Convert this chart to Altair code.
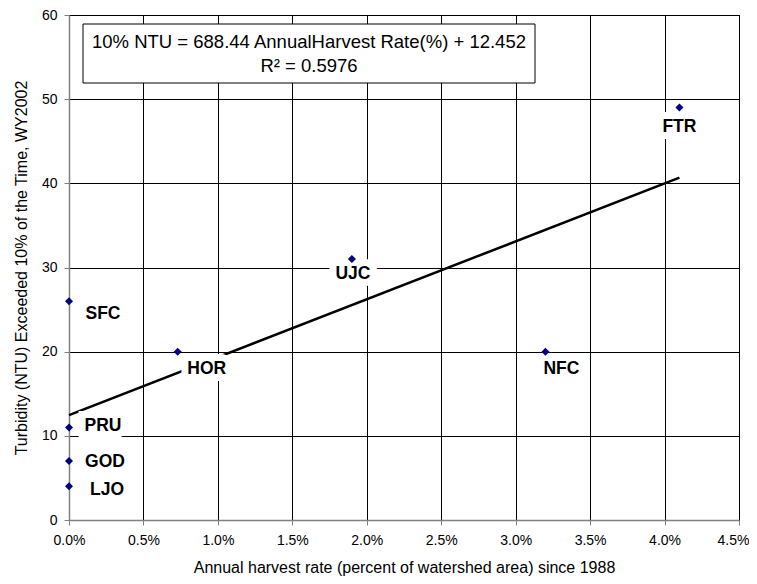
import altair as alt
import pandas as pd

sites = ["SFC", "HOR", "UJC", "NFC", "FTR", "PRU", "GOD", "LJO"]
harvest = [0.0, 0.0073, 0.019, 0.032, 0.041, 0.0, 0.0, 0.0]
ntu = [26, 20, 31, 20, 49, 11, 7, 4]

eq_line1 = "10% NTU = 688.44 AnnualHarvest Rate(%) + 12.452"
eq_line2 = "R\u00b2 = 0.5976"

# label offsets in pixels (styling)
label_offsets = {
    "SFC": (34, 13), "HOR": (29, 17), "PRU": (34, -1), "GOD": (36, 1),
    "LJO": (38, 4), "UJC": (1, 15), "NFC": (16, 17), "FTR": (0, 19),
}

df = pd.DataFrame({"site": sites, "harvest": harvest, "ntu": ntu})

W, H = 670, 505
FONT = "Liberation Sans"

xscale = alt.Scale(domain=[0, 0.045], nice=False)
yscale = alt.Scale(domain=[0, 60], nice=False)

base = alt.Chart(df)

x_enc = alt.X("harvest:Q", scale=xscale,
              axis=alt.Axis(format=".1%", values=[i * 0.005 for i in range(10)],
                            labelOffset=alt.ExprRef("datum.value >= 0.0449 ? -6 : 0"),
                            title="Annual harvest rate (percent of watershed area) since 1988"))
y_enc = alt.Y("ntu:Q", scale=yscale,
              axis=alt.Axis(values=list(range(0, 61, 10)),
                            title="Turbidity (NTU) Exceeded 10% of the Time, WY2002"))

line = base.transform_regression("harvest", "ntu").mark_line(
    color="black", strokeWidth=2.5).encode(x=x_enc, y=y_enc)

layers = [line]

for s in sites:
    dx, dy = label_offsets[s]
    sub = base.transform_filter(alt.datum.site == s)
    layers.append(sub.mark_text(font=FONT, fontSize=17.5, fontWeight="bold", dx=dx, dy=dy,
                                align="center", baseline="middle", color="white",
                                stroke="white", strokeWidth=14, strokeJoin="miter")
                  .encode(x="harvest:Q", y="ntu:Q", text="site:N"))

points = base.mark_point(shape="diamond", filled=True, size=65, color="#000080",
                         opacity=1).encode(x="harvest:Q", y="ntu:Q")
layers.append(points)

for s in sites:
    dx, dy = label_offsets[s]
    sub = base.transform_filter(alt.datum.site == s)
    layers.append(sub.mark_text(font=FONT, fontSize=17.5, fontWeight="bold", dx=dx, dy=dy,
                                align="center", baseline="middle", color="black")
                  .encode(x="harvest:Q", y="ntu:Q", text="site:N"))

box = alt.Chart(pd.DataFrame({"a": [0]})).mark_rect(
    fill="white", stroke="black", strokeWidth=1).encode(
    x=alt.value(14), x2=alt.value(466), y=alt.value(9), y2=alt.value(68))
t1 = alt.Chart(pd.DataFrame({"t": [eq_line1]})).mark_text(
    font=FONT, fontSize=18.5, color="black", align="center", baseline="middle").encode(
    x=alt.value(240), y=alt.value(27), text="t:N")
t2 = alt.Chart(pd.DataFrame({"t": [eq_line2]})).mark_text(
    font=FONT, fontSize=18.5, color="black", align="center", baseline="middle").encode(
    x=alt.value(240), y=alt.value(51), text="t:N")
layers += [box, t1, t2]

chart = alt.layer(*layers).properties(
    width=W, height=H,
    autosize=alt.AutoSizeParams(type="none"),
    padding={"left": 61, "top": 7, "right": 10, "bottom": 58},
    background="white",
).configure_view(stroke="black", strokeWidth=1).configure_axis(
    grid=True, gridColor="black", gridWidth=1, gridOpacity=1,
    domainColor="#808080", domainWidth=1.5, tickColor="#808080", tickSize=5,
    labelFont=FONT, labelFontSize=14, labelColor="black", labelFlush=False,
    titleFont=FONT, titleFontSize=16, titleColor="black", titleFontWeight="normal",
).configure_axisX(labelPadding=8, titlePadding=12).configure_axisY(
    labelPadding=7, titlePadding=12)

chart.save("out.html", embed_options={"renderer": "svg", "actions": False})
